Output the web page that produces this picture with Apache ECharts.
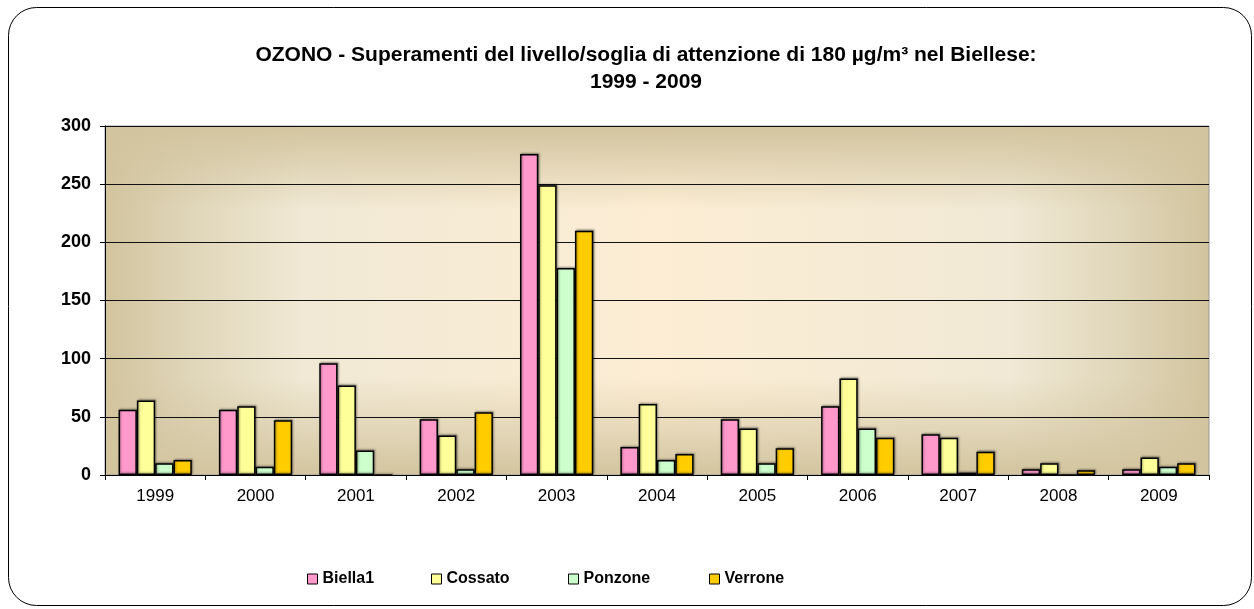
<!DOCTYPE html>
<html>
<head>
<meta charset="utf-8">
<script src="https://cdn.jsdelivr.net/npm/echarts@6/dist/echarts.min.js"></script>
<style>
  html, body { margin: 0; padding: 0; background: #fff; }
  #chart { width: 1254px; height: 609px; }
</style>
</head>
<body>
<div id="chart"></div>
<script>
// dati
const years = ["1999", "2000", "2001", "2002", "2003", "2004", "2005", "2006", "2007", "2008", "2009"];
const biella1 = [56, 56, 96, 48, 276, 24, 48, 59, 35, 5, 5];
const cossato = [64, 59, 77, 34, 249, 61, 40, 83, 32, 10, 15];
const ponzone = [10, 7, 21, 5, 178, 13, 10, 40, 2, 0, 7];
const verrone = [13, 47, 0, 54, 210, 18, 23, 32, 20, 4, 10];
const seriesNames = ["Biella1", "Cossato", "Ponzone", "Verrone"];
const seriesColors = ["#ff99cc", "#ffff99", "#ccffcc", "#ffcc00"];
const legendLeft = [302, 426, 563, 704];

const font = "Liberation Sans, Arial, sans-serif";

// area del grafico
const G = { left: 105, top: 126, width: 1104, height: 349 };

const chart = echarts.init(document.getElementById("chart"));

const bar = (name, data, i) => ({
    name: name,
    type: "bar",
    data: data,
    barGap: "0%",
    barCategoryGap: "27%",
    itemStyle: {
        color: seriesColors[i],
        borderColor: "#000",
        borderWidth: 1.5,
        shadowColor: "rgba(0,0,0,0.35)",
        shadowBlur: 2,
        shadowOffsetX: 1,
        shadowOffsetY: -1
    }
});

const tan = "#d2c49e";
chart.setOption({
    animation: false,
    backgroundColor: "#fff",
    textStyle: { fontFamily: font },
    graphic: [
        {
            type: "rect", z: -10,
            shape: { x: 8.5, y: 7.5, width: 1243, height: 598, r: 28 },
            style: { fill: "#fff", stroke: "#000", lineWidth: 1 }
        },
        {
            type: "rect", z: -9,
            shape: { x: G.left, y: G.top, width: G.width, height: G.height },
            style: {
                fill: new echarts.graphic.LinearGradient(0, 0, 1, 0, [
                    { offset: 0, color: tan },
                    { offset: 0.08, color: "#e0d6ba" },
                    { offset: 0.18, color: "#f1e9d5" },
                    { offset: 0.5, color: "#fcedd4" },
                    { offset: 0.82, color: "#f1e9d5" },
                    { offset: 0.92, color: "#e0d6ba" },
                    { offset: 1, color: tan }
                ])
            }
        },
        {
            type: "rect", z: -8,
            shape: { x: G.left, y: G.top, width: G.width, height: G.height },
            style: {
                fill: new echarts.graphic.LinearGradient(0, 0, 0, 1, [
                    { offset: 0, color: "rgba(210,196,158,1)" },
                    { offset: 0.1, color: "rgba(210,196,158,0.6)" },
                    { offset: 0.24, color: "rgba(210,196,158,0)" },
                    { offset: 0.72, color: "rgba(210,196,158,0)" },
                    { offset: 0.88, color: "rgba(210,196,158,0.55)" },
                    { offset: 1, color: "rgba(210,196,158,1)" }
                ])
            }
        }
    ],
    title: {
        text: "OZONO - Superamenti del livello/soglia di attenzione di 180 µg/m³ nel Biellese:\n1999 - 2009",
        left: 641,
        textAlign: "center",
        top: 37,
        textStyle: { fontFamily: font, fontSize: 21, fontWeight: "bold", color: "#000", lineHeight: 27 }
    },
    legend: seriesNames.map((n, i) => ({
        data: [n],
        left: legendLeft[i],
        top: 566,
        itemWidth: 10,
        itemHeight: 10,
        itemGap: 5,
        icon: "rect",
        itemStyle: { borderColor: "#000", borderWidth: 1 },
        textStyle: { fontFamily: font, fontSize: 16, fontWeight: "bold", color: "#000" }
    })),
    grid: {
        left: G.left,
        top: G.top,
        width: G.width,
        height: G.height,
        show: true,
        borderColor: "#999",
        borderWidth: 1,
        backgroundColor: "transparent"
    },
    xAxis: {
        type: "category",
        data: years,
        axisLine: { lineStyle: { color: "#000", width: 1 } },
        axisTick: { show: true, length: 5, lineStyle: { color: "#000" } },
        axisLabel: { fontFamily: font, fontSize: 17, color: "#000", margin: 13 }
    },
    yAxis: {
        type: "value",
        min: 0,
        max: 300,
        interval: 50,
        axisLine: { show: true, lineStyle: { color: "#000", width: 1 } },
        axisTick: { show: true, length: 5, lineStyle: { color: "#000" } },
        axisLabel: { fontFamily: font, fontSize: 18, fontWeight: "bold", color: "#000", margin: 14 },
        splitLine: { lineStyle: { color: "#111", width: 1 } }
    },
    series: [
        bar(seriesNames[0], biella1, 0),
        bar(seriesNames[1], cossato, 1),
        bar(seriesNames[2], ponzone, 2),
        bar(seriesNames[3], verrone, 3)
    ]
});
</script>
</body>
</html>
